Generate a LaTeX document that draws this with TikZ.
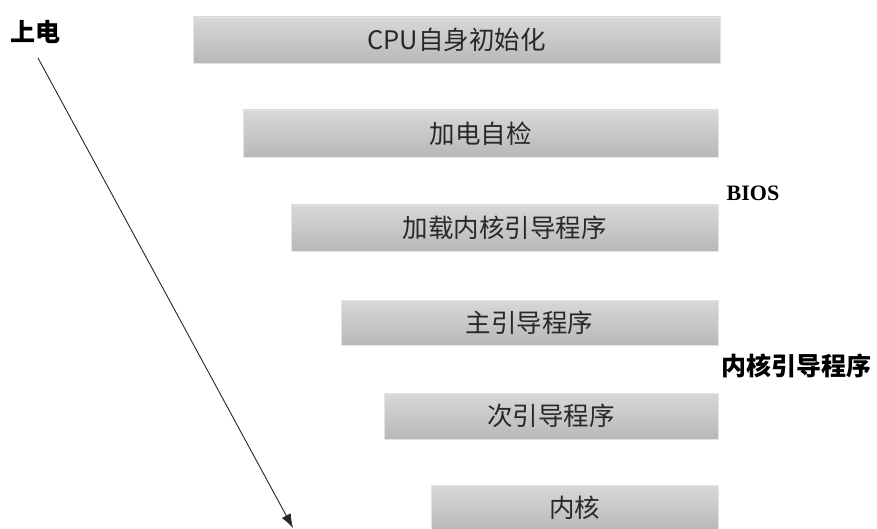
\documentclass[tikz,border=0pt]{standalone}
\usepackage{fontspec}
\newfontfamily\cjk{Noto Sans CJK SC}
\newfontfamily\serifb{Liberation Serif}
\usetikzlibrary{arrows.meta}
\definecolor{boxtop}{RGB}{216,216,216}
\definecolor{boxbot}{RGB}{184,184,184}
\definecolor{boxedge}{RGB}{228,228,228}
\definecolor{boxtext}{RGB}{40,40,40}
\tikzset{
  stagebox/.style={draw=boxedge, line width=0.8pt, top color=boxtop, bottom color=boxbot,
    inner sep=0pt, text=boxtext, font=\cjk\fontsize{25.5}{30}\selectfont},
  sidelabel/.style={inner sep=0pt, text=black},
  powerarrow/.style={draw=black!85, line width=0.9pt, -{Latex[length=14pt,width=10pt]}}
}
\begin{document}
\begin{tikzpicture}[x=1pt,y=-1pt]
\useasboundingbox (0,0) rectangle (877,529);
\node[stagebox, minimum width=527pt, minimum height=46pt] (cpu) at (456.5,40) {CPU自身初始化};
\node[stagebox, minimum width=475pt, minimum height=47pt] (post) at (480.5,133.5) {加电自检};
\node[stagebox, minimum width=427pt, minimum height=46pt] (load) at (504.5,228) {加载内核引导程序};
\node[stagebox, minimum width=377pt, minimum height=45pt] (mbr) at (529.5,322.5) {主引导程序};
\node[stagebox, minimum width=334pt, minimum height=46pt] (sec) at (551,416) {次引导程序};
\node[stagebox, minimum width=287pt, minimum height=46pt] (kern) at (574.5,508) {内核};
\node[sidelabel, font=\cjk\bfseries\fontsize{25}{30}\selectfont] (power) at (35,32) {上电};
\node[sidelabel, font=\serifb\bfseries\fontsize{22}{26}\selectfont] (bios) at (753,193) {BIOS};
\node[sidelabel, font=\cjk\bfseries\fontsize{25}{30}\selectfont] (kboot) at (796,366) {内核引导程序};
\coordinate (astart) at (38,58);
\coordinate (aend) at (293,528);
\draw[powerarrow] (astart) -- (aend);
\end{tikzpicture}
\end{document}
